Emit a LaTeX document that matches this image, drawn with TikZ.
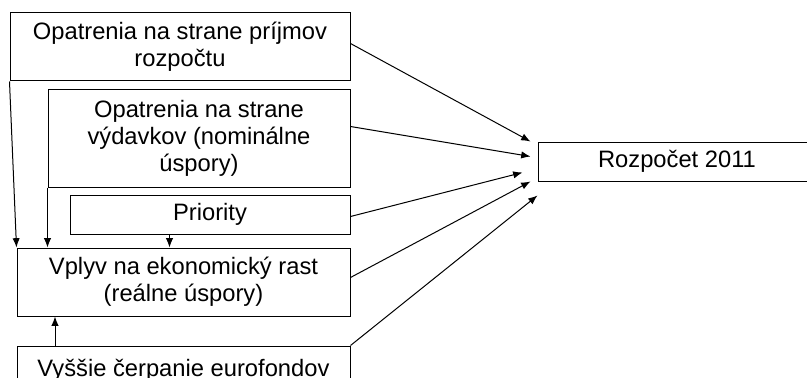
\documentclass[tikz,border=0pt]{standalone}
\usepackage{fontspec}
\setmainfont{Liberation Sans}
\usetikzlibrary{arrows.meta,calc}
\tikzset{
  box/.style={draw, line width=0.75pt, inner sep=0pt, align=center,
    font=\fontsize{17.8pt}{20pt}\selectfont},
  arr/.style={line width=0.75pt, -{Latex[length=7pt,width=5.5pt]}},
}
\begin{document}
\begin{tikzpicture}[x=0.75pt,y=-0.75pt]
\useasboundingbox (0,0) rectangle (807,378);
\begin{scope}
\clip (0,0) rectangle (807,378);
% input boxes on the left
\node[box, minimum width=255pt, minimum height=51pt] (prijmy) at (180,47)
  {Opatrenia na strane príjmov\\rozpočtu};
\node[box, minimum width=226.5pt, minimum height=72.75pt] (vydavky) at (199,138.5)
  {Opatrenia na strane\\výdavkov (nominálne\\úspory)};
\node[box, minimum width=210pt, minimum height=29.25pt] (priority) at (210,214.5)
  {Priority};
\node[box, minimum width=249.75pt, minimum height=51pt] (vplyv) at (183.5,282)
  {Vplyv na ekonomický rast\\(reálne úspory)};
\node[box, minimum width=249.75pt, minimum height=36pt] (fondy) at (183.5,370)
  {Vyššie čerpanie eurofondov};
% target box
\node[box, minimum width=208.5pt, minimum height=29.25pt] (rozpocet) at (677,161.5)
  {Rozpočet 2011};
\end{scope}

% arrows into the growth box
\draw[arr] (prijmy.south west) -- (vplyv.north west);
\draw[arr] (vydavky.south west) -- (vydavky.south west |- vplyv.north);
\coordinate (prisrc) at ($(priority.south west)+(100,0)$);
\draw[arr] (prisrc) -- (prisrc |- vplyv.north);
\coordinate (fondsrc) at ($(fondy.north west)+(38.5,0)$);
\draw[arr] (fondsrc) -- (fondsrc |- vplyv.south);

% arrows into the budget
\coordinate (t1) at ($(rozpocet.north west)+(-7,0)$);
\coordinate (t2) at ($(rozpocet.north west)+(-7,15)$);
\coordinate (t3) at ($(rozpocet.north west)+(-15,31)$);
\coordinate (t4) at ($(rozpocet.north west)+(-7,40)$);
\coordinate (t5) at ($(rozpocet.north west)+(0,54)$);
\draw[arr] ($(prijmy.north east)+(0,31)$) -- (t1);
\draw[arr] ($(vydavky.north east)+(0,37)$) -- (t2);
\draw[arr] ($(priority.north east)+(0,22)$) -- (t3);
\draw[arr] ($(vplyv.north east)+(0,30)$) -- (t4);
\draw[arr] (fondy.north east) -- (t5);
\end{tikzpicture}
\end{document}
